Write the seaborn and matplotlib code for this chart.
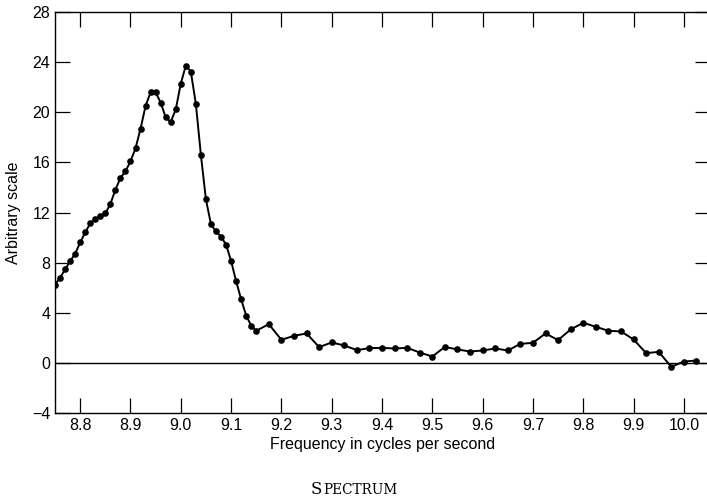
import pandas as pd
import matplotlib
matplotlib.use("Agg")
import matplotlib.pyplot as plt
import seaborn as sns

# ---------------- DATA ---------------- #

# fine sampling across the double peak (0.01 steps)
freq_fine = [8.75, 8.76, 8.77, 8.78, 8.79, 8.80, 8.81, 8.82, 8.83, 8.84,
             8.85, 8.86, 8.87, 8.88, 8.89, 8.90, 8.91, 8.92, 8.93, 8.94,
             8.95, 8.96, 8.97, 8.98, 8.99, 9.00, 9.01, 9.02, 9.03, 9.04,
             9.05, 9.06, 9.07, 9.08, 9.09, 9.10, 9.11, 9.12, 9.13, 9.14,
             9.15]
level_fine = [6.27, 6.80, 7.47, 8.13, 8.72, 9.62, 10.42, 11.14, 11.46, 11.75,
              11.94, 12.68, 13.82, 14.76, 15.29, 16.09, 17.12, 18.69, 20.50, 21.60,
              21.60, 20.77, 19.60, 19.22, 20.23, 22.28, 23.72, 23.24, 20.66, 16.59,
              13.05, 11.07, 10.50, 10.08, 9.45, 8.14, 6.54, 5.08, 3.80, 2.98,
              2.58]

# coarser sampling along the tail (0.025 steps)
freq_coarse = [9.175, 9.200, 9.225, 9.250, 9.275, 9.300, 9.325, 9.350, 9.375,
               9.400, 9.425, 9.450, 9.475, 9.500, 9.525, 9.550, 9.575, 9.600,
               9.625, 9.650, 9.675, 9.700, 9.725, 9.750, 9.775, 9.800, 9.825,
               9.850, 9.875, 9.900, 9.925, 9.950, 9.975, 10.000, 10.025]
level_coarse = [3.11, 1.86, 2.18, 2.37, 1.28, 1.65, 1.41, 1.04, 1.20,
                1.22, 1.17, 1.22, 0.85, 0.53, 1.30, 1.09, 0.93, 1.01,
                1.17, 1.01, 1.54, 1.62, 2.37, 1.84, 2.69, 3.22, 2.90,
                2.58, 2.53, 1.89, 0.80, 0.90, -0.29, 0.13, 0.21]

x_ticks = [8.8, 8.9, 9.0, 9.1, 9.2, 9.3, 9.4, 9.5, 9.6, 9.7, 9.8, 9.9, 10.0]
y_ticks = [-4, 0, 4, 8, 12, 16, 20, 24, 28]

spectrum = pd.DataFrame({
    "freq": freq_fine + freq_coarse,
    "level": level_fine + level_coarse,
})

# ---------------- STYLE ---------------- #

sns.set_style("ticks")
plt.rcParams["font.family"] = ["Liberation Sans", "DejaVu Sans"]
plt.rcParams["font.size"] = 11.5
plt.rcParams["text.color"] = "black"
plt.rcParams["axes.labelcolor"] = "black"
plt.rcParams["xtick.color"] = "black"
plt.rcParams["ytick.color"] = "black"

fig = plt.figure(figsize=(7.07, 4.98), dpi=100)
ax = fig.add_axes([0.0778, 0.170, 0.9265, 0.806])

# ---------------- PLOT ---------------- #

ax.axhline(0, color="black", linewidth=1.0, zorder=1)

sns.lineplot(data=spectrum, x="freq", y="level", ax=ax,
             color="black", linewidth=1.4, marker="o",
             markersize=4.8, markeredgewidth=0, zorder=3)

ax.set_xlim(8.75, 10.052)
ax.set_ylim(-4, 28)
ax.set_xticks(x_ticks)
ax.set_xticklabels([f"{t:.1f}" for t in x_ticks])
ax.set_yticks(y_ticks)
ax.set_yticklabels([f"{t}" if t >= 0 else f"\u2212{abs(t)}" for t in y_ticks])

ax.tick_params(axis="both", direction="in", length=11, width=0.9,
               color="black", labelcolor="black", labelsize=11.5, pad=3.5,
               top=True, right=True)

for side in ax.spines.values():
    side.set_linewidth(1.0)
    side.set_color("black")

ax.set_xlabel("Frequency in cycles per second", fontsize=11.5, labelpad=3)
ax.set_ylabel("Arbitrary scale", fontsize=11.5)
ax.yaxis.set_label_coords(-0.052, 0.5)

# small-caps caption under the chart
fig.text(0.456, 0.008, "S", family="DejaVu Serif", fontsize=12,
         ha="right", va="baseline")
fig.text(0.457, 0.008, "PECTRUM", family="DejaVu Serif", fontsize=9.8,
         ha="left", va="baseline")

fig.savefig("out.png", dpi=100)
